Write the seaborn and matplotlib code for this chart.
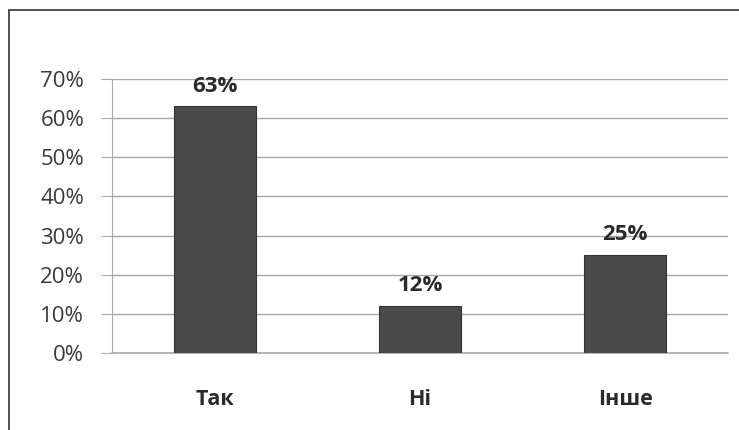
import matplotlib
matplotlib.use("Agg")
import matplotlib.pyplot as plt
import seaborn as sns
from matplotlib.lines import Line2D
from matplotlib.ticker import PercentFormatter

# дані з діаграми
categories = ["Так", "Ні", "Інше"]
values = [0.63, 0.12, 0.25]
value_labels = ["63%", "12%", "25%"]

sns.set_style("white")
plt.rcParams["font.family"] = ["Open Sans", "DejaVu Sans"]

fig = plt.figure(figsize=(7.39, 4.30), dpi=100)
ax = fig.add_axes([112 / 739, 77 / 430, 616 / 739, 274 / 430])

sns.barplot(x=categories, y=values, ax=ax, color="#4a4a4a", width=0.4,
            edgecolor="#333333", linewidth=0.8, saturation=1)

ax.set_ylim(0, 0.7)
ax.set_xlim(-0.5, 2.5)
ax.set_yticks([i / 10 for i in range(8)])
ax.yaxis.set_major_formatter(PercentFormatter(1.0, decimals=0))
ax.grid(axis="y", color="#a8a8a8", linewidth=1.0)
ax.set_axisbelow(True)
ax.axhline(0, color="#a8a8a8", linewidth=1.2, zorder=0.5, clip_on=False)

for s in ["top", "right", "bottom"]:
    ax.spines[s].set_visible(False)
ax.spines["left"].set_color("#a8a8a8")

ax.tick_params(axis="y", length=8, color="#a8a8a8", labelsize=16,
               labelcolor="#3a3a3a", pad=12, left=True)
ax.tick_params(axis="x", length=0, labelsize=15.5, labelcolor="#2a2a2a", pad=26)
for lbl in ax.get_xticklabels():
    lbl.set_fontweight("bold")

for i, (v, t) in enumerate(zip(values, value_labels)):
    ax.annotate(t, (i, v), xytext=(0, 7), textcoords="offset points",
                ha="center", va="bottom", fontsize=16, fontweight="bold",
                color="#2a2a2a")

ax.set_xlabel("")
ax.set_ylabel("")

# рамка зверху та зліва
fig.add_artist(Line2D([9 / 739, 1.0], [1 - 10 / 430, 1 - 10 / 430],
                      transform=fig.transFigure, color="#333333", linewidth=1.2))
fig.add_artist(Line2D([9 / 739, 9 / 739], [0, 1 - 10 / 430],
                      transform=fig.transFigure, color="#333333", linewidth=1.2))

fig.savefig("out.png", dpi=100)
